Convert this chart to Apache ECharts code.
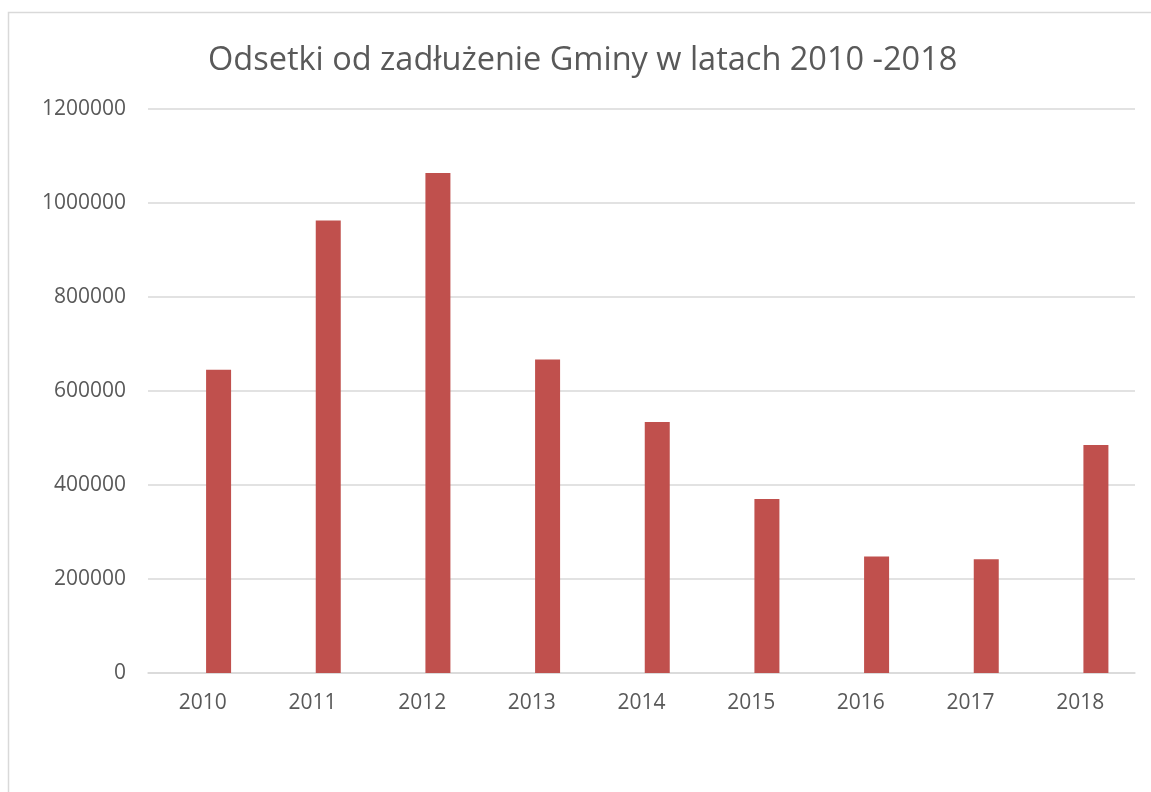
<!DOCTYPE html>
<html>
<head>
<meta charset="utf-8">
<script src="https://cdn.jsdelivr.net/npm/echarts@6/dist/echarts.min.js"></script>
<style>
  html, body { margin: 0; padding: 0; background: #fff; }
  #chart { width: 1151px; height: 792px; }
</style>
</head>
<body>
<div id="chart"></div>
<script>
// Data
var years = ['2010', '2011', '2012', '2013', '2014', '2015', '2016', '2017', '2018'];
var interest = [645000, 963000, 1064000, 667000, 534000, 370000, 248000, 242000, 485000];
// the source chart is clustered with an empty first series, which pushes the bars right
var emptySeries = [null, null, null, null, null, null, null, null, null];
var titleText = 'Odsetki od zadłużenie Gminy w latach 2010 -2018';

var chart = echarts.init(document.getElementById('chart'));

var textColor = '#595959';
var fontFamily = '"Open Sans", "Noto Sans", sans-serif';

chart.setOption({
    animation: false,
    backgroundColor: '#fff',
    graphic: [
        {
            // outer chart frame
            type: 'rect',
            shape: { x: 8.5, y: 12.5, width: 1200, height: 850 },
            style: { fill: 'none', stroke: '#d9d9d9', lineWidth: 1.5 },
            silent: true
        }
    ],
    title: {
        text: titleText,
        left: 203,
        top: 39,
        textStyle: {
            color: textColor,
            fontFamily: fontFamily,
            fontSize: 32.5,
            fontWeight: 'normal'
        }
    },
    grid: {
        left: 148,
        right: 16,
        top: 109,
        bottom: 119,
        containLabel: false
    },
    xAxis: {
        type: 'category',
        data: years,
        axisLine: { lineStyle: { color: '#d9d9d9', width: 1.5 } },
        axisTick: { show: false },
        axisLabel: {
            color: textColor,
            fontFamily: fontFamily,
            fontSize: 21,
            margin: 20
        }
    },
    yAxis: {
        type: 'value',
        min: 0,
        max: 1200000,
        interval: 200000,
        axisLine: { show: false },
        axisTick: { show: false },
        axisLabel: {
            color: textColor,
            fontFamily: fontFamily,
            fontSize: 21,
            margin: 22,
            formatter: function (v) { return String(v); }
        },
        splitLine: { lineStyle: { color: '#d9d9d9', width: 1.5 } }
    },
    series: [
        {
            name: 'empty',
            type: 'bar',
            data: emptySeries,
            barWidth: 25,
            barGap: '26%',
            silent: true
        },
        {
            name: 'Odsetki',
            type: 'bar',
            data: interest,
            barWidth: 25,
            barGap: '26%',
            itemStyle: { color: '#c0504d' }
        }
    ]
});
</script>
</body>
</html>
